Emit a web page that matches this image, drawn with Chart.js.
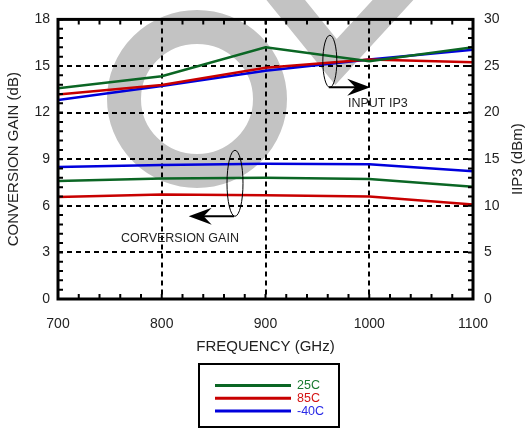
<!DOCTYPE html>
<html>
<head>
<meta charset="utf-8">
<script src="https://cdn.jsdelivr.net/npm/chart.js@4/dist/chart.umd.min.js"></script>
<style>
  html, body { margin: 0; padding: 0; background: #fff; }
  #wrap { width: 525px; height: 428px; position: relative; }
</style>
</head>
<body>
<div id="wrap"><canvas id="chart1" width="525" height="428"></canvas></div>
<script>
// frequency points (GHz)
const freq = [700, 800, 900, 1000, 1100];

// conversion gain (dB), left axis
const gain25 = [7.6, 7.75, 7.8, 7.72, 7.23];
const gain85 = [6.57, 6.72, 6.68, 6.6, 6.08];
const gainM40 = [8.5, 8.62, 8.7, 8.68, 8.23];

// input IP3 (dBm), right axis
const iip25 = [22.6, 23.9, 27.0, 25.5, 27.0];
const iip85 = [21.95, 22.95, 24.8, 25.7, 25.4];
const iipM40 = [21.35, 22.85, 24.5, 25.7, 26.75];

const xTicks = [700, 800, 900, 1000, 1100];
const gainTicks = [0, 3, 6, 9, 12, 15, 18];
const iipTicks = [0, 5, 10, 15, 20, 25, 30];

const legendLabels = ['25C', '85C', '-40C'];

const GREEN = '#0b6624';
const RED = '#c80000';
const BLUE = '#0000dc';
const FONT = "'Liberation Sans', Arial, Helvetica, sans-serif";

const pts = (ys) => freq.map((f, i) => ({ x: f, y: ys[i] }));

const line = (label, ys, color, axis) => ({
  label: label,
  data: pts(ys),
  borderColor: color,
  backgroundColor: color,
  borderWidth: 2.5,
  pointRadius: 0,
  tension: 0,
  yAxisID: axis
});

// gray watermark behind the plot
const watermark = {
  id: 'watermark',
  beforeDraw(chart) {
    const ctx = chart.ctx;
    ctx.save();
    ctx.strokeStyle = '#c3c3c3';
    ctx.lineWidth = 34;
    ctx.beginPath();
    ctx.ellipse(197, 99, 73, 72, 0, 0, Math.PI * 2);
    ctx.stroke();
    ctx.lineJoin = 'miter';
    ctx.lineWidth = 30;
    ctx.beginPath();
    ctx.moveTo(276, -12);
    ctx.lineTo(336, 62);
    ctx.lineTo(404, -12);
    ctx.stroke();
    ctx.restore();
  }
};

function arrowHead(ctx, tipX, y, dir) {
  // dir = 1 points right, -1 points left
  ctx.beginPath();
  ctx.moveTo(tipX, y);
  ctx.lineTo(tipX - dir * 23, y - 8.5);
  ctx.lineTo(tipX - dir * 15, y);
  ctx.lineTo(tipX - dir * 23, y + 8.5);
  ctx.closePath();
  ctx.fill();
}

// frame, minor ticks, annotations, right title, legend box
const decorations = {
  id: 'decorations',
  afterDraw(chart) {
    const ctx = chart.ctx;
    const a = chart.chartArea;
    const sx = chart.scales.x, sy = chart.scales.y, sy1 = chart.scales.y1;
    ctx.save();

    // minor ticks
    ctx.strokeStyle = '#000';
    ctx.lineWidth = 2;
    ctx.beginPath();
    for (let v = 0; v <= 30; v++) {
      const py = sy1.getPixelForValue(v);
      ctx.moveTo(a.left, py); ctx.lineTo(a.left + 5, py);
      ctx.moveTo(a.right, py); ctx.lineTo(a.right - 5, py);
    }
    for (let f = 700; f <= 1100; f += 20) {
      const px = sx.getPixelForValue(f);
      ctx.moveTo(px, a.bottom); ctx.lineTo(px, a.bottom - 5);
      ctx.moveTo(px, a.top); ctx.lineTo(px, a.top + 5);
    }
    ctx.stroke();

    // frame
    ctx.lineWidth = 3;
    ctx.strokeRect(a.left, a.top, a.right - a.left, a.bottom - a.top);

    // IP3 annotation
    ctx.lineWidth = 1;
    let cx = sx.getPixelForValue(962), cy = sy1.getPixelForValue(25.5);
    ctx.beginPath();
    ctx.ellipse(cx, cy, 7, 26, 0, 0, Math.PI * 2);
    ctx.stroke();
    let ay = cy + 26;
    ctx.lineWidth = 2;
    ctx.beginPath();
    ctx.moveTo(cx - 1, ay);
    ctx.lineTo(sx.getPixelForValue(1000) - 8, ay);
    ctx.stroke();
    ctx.fillStyle = '#000';
    arrowHead(ctx, sx.getPixelForValue(1000) + 1, ay, 1);

    ctx.fillStyle = '#222';
    ctx.font = '12.5px ' + FONT;
    ctx.textAlign = 'left';
    ctx.textBaseline = 'middle';
    ctx.fillText('INPUT IP3', sx.getPixelForValue(979.5), sy1.getPixelForValue(21.0));

    // gain annotation
    ctx.lineWidth = 1;
    cx = sx.getPixelForValue(870.6); cy = sy.getPixelForValue(7.45);
    ctx.beginPath();
    ctx.ellipse(cx, cy, 8, 33, 0, 0, Math.PI * 2);
    ctx.stroke();
    ay = cy + 33;
    ctx.lineWidth = 2;
    ctx.beginPath();
    ctx.moveTo(cx - 1, ay);
    ctx.lineTo(sx.getPixelForValue(826) + 8, ay);
    ctx.stroke();
    ctx.fillStyle = '#000';
    arrowHead(ctx, sx.getPixelForValue(826), ay, -1);

    ctx.fillStyle = '#222';
    ctx.textAlign = 'center';
    ctx.fillText('CORVERSION GAIN', sx.getPixelForValue(817.6), sy.getPixelForValue(3.9));

    // right axis title, reads bottom to top
    ctx.save();
    ctx.translate(518, (a.top + a.bottom) / 2);
    ctx.rotate(-Math.PI / 2);
    ctx.font = '15px ' + FONT;
    ctx.fillStyle = '#222';
    ctx.textAlign = 'center';
    ctx.textBaseline = 'middle';
    ctx.fillText('IIP3 (dBm)', 0, 0);
    ctx.restore();

    // legend box
    ctx.lineWidth = 2;
    ctx.strokeStyle = '#000';
    ctx.strokeRect(199, 364, 140, 63);
    const cols = [GREEN, RED, BLUE];
    const textCols = ['#1a7a30', '#d41414', '#2a2ae6'];
    ctx.font = '12.5px ' + FONT;
    ctx.textAlign = 'left';
    ctx.textBaseline = 'middle';
    legendLabels.forEach((lab, i) => {
      const y = 385.5 + i * 12.8;
      ctx.strokeStyle = cols[i];
      ctx.lineWidth = 3;
      ctx.beginPath();
      ctx.moveTo(215, y); ctx.lineTo(291, y);
      ctx.stroke();
      ctx.fillStyle = textCols[i];
      ctx.fillText(lab, 297, y + 0.5);
    });

    ctx.restore();
  }
};

const ctx = document.getElementById('chart1');
new Chart(ctx, {
  type: 'line',
  data: {
    datasets: [
      line('25C', gain25, GREEN, 'y'),
      line('85C', gain85, RED, 'y'),
      line('-40C', gainM40, BLUE, 'y'),
      line('25C', iip25, GREEN, 'y1'),
      line('85C', iip85, RED, 'y1'),
      line('-40C', iipM40, BLUE, 'y1')
    ]
  },
  options: {
    responsive: false,
    animation: false,
    events: [],
    layout: { padding: { top: 15, right: 0, bottom: 72, left: 0 } },
    plugins: { legend: { display: false }, tooltip: { enabled: false } },
    scales: {
      x: {
        type: 'linear',
        min: 700, max: 1100,
        afterBuildTicks: (s) => { s.ticks = xTicks.map(v => ({ value: v })); },
        afterFit: (s) => { s.height = 57; },
        grid: {
          color: (c) => (c.tick.value === 700 || c.tick.value === 1100) ? 'rgba(0,0,0,0)' : '#000',
          lineWidth: 2,
          drawTicks: false
        },
        border: { display: false, dash: [5, 4] },
        ticks: { color: '#222', padding: 17, maxRotation: 0, font: { family: FONT, size: 14 }, callback: (v) => String(v) },
        title: { display: true, text: 'FREQUENCY (GHz)', color: '#222', padding: { top: 0, bottom: 0 }, font: { family: FONT, size: 15 } }
      },
      y: {
        position: 'left',
        min: 0, max: 18,
        afterBuildTicks: (s) => { s.ticks = gainTicks.map(v => ({ value: v })); },
        afterFit: (s) => { s.width = 58; },
        grid: {
          color: (c) => (c.tick.value === 0 || c.tick.value === 18) ? 'rgba(0,0,0,0)' : '#000',
          lineWidth: 2,
          drawTicks: false
        },
        border: { display: false, dash: [5, 4] },
        ticks: { color: '#222', padding: 8, font: { family: FONT, size: 14 } },
        title: { display: true, text: 'CONVERSION GAIN (dB)', color: '#222', padding: { top: 5, bottom: 0 }, font: { family: FONT, size: 15 } }
      },
      y1: {
        position: 'right',
        min: 0, max: 30,
        afterBuildTicks: (s) => { s.ticks = iipTicks.map(v => ({ value: v })); },
        afterFit: (s) => { s.width = 52; },
        grid: { display: false, drawTicks: false },
        border: { display: false },
        ticks: { color: '#222', padding: 11, font: { family: FONT, size: 14 } }
      }
    }
  },
  plugins: [watermark, decorations]
});
</script>
</body>
</html>
